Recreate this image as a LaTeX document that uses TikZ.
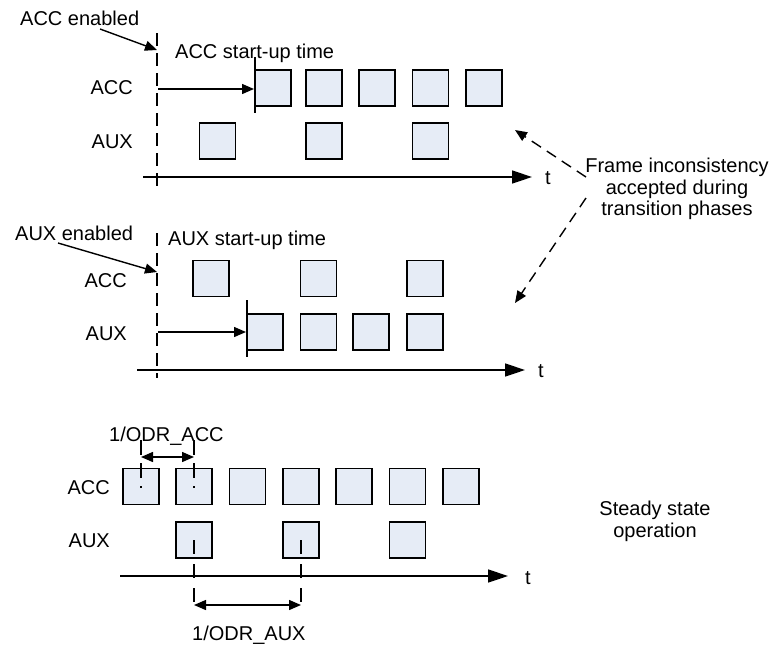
\documentclass[tikz,border=0pt]{standalone}
\usepackage{fontspec}
\setmainfont{Liberation Sans}
\usetikzlibrary{arrows.meta}
\definecolor{boxfill}{RGB}{230,236,246}
\begin{document}
\begin{tikzpicture}[x=1pt,y=-1pt, font=\fontsize{20}{21.8}\selectfont,
 frame/.style={draw=black, line width=1.7pt, fill=boxfill, minimum width=36pt, minimum height=36pt, inner sep=0pt},
 lbl/.style={anchor=base east, inner sep=0pt},
 txt/.style={anchor=base west, inner sep=0pt},
 axis/.style={line width=1.5pt, -{Triangle[length=20pt,width=13pt]}},
 arr/.style={line width=1.4pt, -{Triangle[length=12pt,width=10pt]}},
 darr/.style={line width=1.4pt, {Triangle[length=12pt,width=10pt]}-{Triangle[length=12pt,width=10pt]}},
 vdash/.style={line width=1.4pt, dash pattern=on 13pt off 7pt},
 bar/.style={line width=1.4pt},
 dnote/.style={line width=1.4pt, dash pattern=on 11pt off 7pt, -{Triangle[length=12pt,width=10pt]}}]
\useasboundingbox (0,0) rectangle (774,646);

% ---------- panel 1 ----------
\coordinate (e1t) at (157,33); \coordinate (e1b) at (157,188);
\draw[vdash] (e1t) -- (e1b);
\node[txt] (accen) at (20,25) {ACC enabled};
\coordinate (accenS) at (100,29); \coordinate (accenT) at (157,50);
\draw[arr] (accenS) -- (accenT);
\node[txt] (su1) at (175,58) {ACC start-up time};
\node[lbl] (l1acc) at (133,94) {ACC};
\node[lbl] (l1aux) at (133,148) {AUX};
\foreach \x [count=\i] in {273,324,377,430.5,484} \node[frame] (a1\i) at (\x,88) {};
\foreach \x [count=\i] in {217.5,324,430.5} \node[frame] (x1\i) at (\x,141) {};
\coordinate (b1t) at (255,57); \coordinate (b1b) at (255,113);
\draw[bar] (b1t) -- (b1b);
\coordinate (s1a) at (158,89); \coordinate (s1b) at (254,89);
\draw[arr] (s1a) -- (s1b);
\coordinate (ax1s) at (143,177); \coordinate (ax1e) at (532,177);
\draw[axis] (ax1s) -- (ax1e);
\node (t1) at (548,178) {t};

% ---------- note ----------
\node[align=center] (note) at (677,189) {Frame inconsistency\\accepted during\\transition phases};
\coordinate (n1) at (586,177); \coordinate (n1t) at (515,130);
\coordinate (n2) at (586,198); \coordinate (n2t) at (515,303);
\draw[dnote] (n1) -- (n1t);
\draw[dnote] (n2) -- (n2t);

% ---------- panel 2 ----------
\coordinate (e2t) at (157,233); \coordinate (e2b) at (157,378);
\draw[vdash] (e2t) -- (e2b);
\node[txt] (auxen) at (15,240) {AUX enabled};
\coordinate (auxenS) at (58,243); \coordinate (auxenT) at (157,272);
\draw[arr] (auxenS) -- (auxenT);
\node[txt] (su2) at (168,245) {AUX start-up time};
\node[lbl] (l2acc) at (127,287) {ACC};
\node[lbl] (l2aux) at (127,340) {AUX};
\foreach \x [count=\i] in {211,318.5,425} \node[frame] (a2\i) at (\x,278.5) {};
\foreach \x [count=\i] in {265,318.5,371,425} \node[frame] (x2\i) at (\x,332) {};
\coordinate (b2t) at (247,300); \coordinate (b2b) at (247,357);
\draw[bar] (b2t) -- (b2b);
\coordinate (s2a) at (158,332); \coordinate (s2b) at (246,332);
\draw[arr] (s2a) -- (s2b);
\coordinate (ax2s) at (137,370); \coordinate (ax2e) at (525,370);
\draw[axis] (ax2s) -- (ax2e);
\node (t2) at (541,371) {t};

% ---------- panel 3 ----------
\node[txt] (odracc) at (109,441) {1/ODR\textunderscore ACC};
\node[lbl] (l3acc) at (110,494) {ACC};
\node[lbl] (l3aux) at (110,547) {AUX};
\foreach \x [count=\i] in {141,194,247.5,301,354,407.5,461} \node[frame] (a3\i) at (\x,486.5) {};
\foreach \x [count=\i] in {194,301,407.5} \node[frame] (x3\i) at (\x,540) {};
\coordinate (p1t) at (141,440); \coordinate (p1b) at (141,488);
\coordinate (p2t) at (194,440); \coordinate (p2b) at (194,488);
\draw[line width=1.4pt, dash pattern=on 15pt off 8pt on 15pt off 8pt on 1.5pt off 100pt] (p1t) -- (p1b);
\draw[line width=1.4pt, dash pattern=on 15pt off 8pt on 15pt off 8pt on 1.5pt off 100pt] (p2t) -- (p2b);
\coordinate (d1a) at (141,457); \coordinate (d1b) at (194,457);
\draw[darr] (d1a) -- (d1b);
\coordinate (q1t) at (194,540); \coordinate (q1b) at (194,612);
\coordinate (q2t) at (301,540); \coordinate (q2b) at (301,612);
\draw[line width=1.4pt, dash pattern=on 14pt off 10pt] (q1t) -- (q1b);
\draw[line width=1.4pt, dash pattern=on 14pt off 10pt] (q2t) -- (q2b);
\coordinate (ax3s) at (120,576); \coordinate (ax3e) at (508,576);
\draw[axis] (ax3s) -- (ax3e);
\node (t3) at (528,578) {t};
\coordinate (d2a) at (194,605); \coordinate (d2b) at (301,605);
\draw[darr] (d2a) -- (d2b);
\node[txt] (odraux) at (192,640) {1/ODR\textunderscore AUX};
\node[align=center] (steady) at (655,521) {Steady state\\operation};
\end{tikzpicture}
\end{document}
